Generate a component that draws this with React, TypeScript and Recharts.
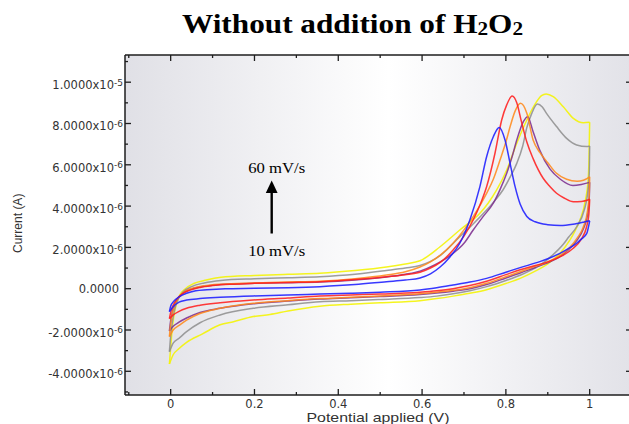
import React from 'react';
import { LineChart, Line, XAxis, YAxis, CartesianGrid } from 'recharts';

type P = [number, number]; // [potential V, current µA]

const xTicks = [-0.1, 0, 0.1, 0.2, 0.3, 0.4, 0.5, 0.6, 0.7, 0.8, 0.9, 1.0];
const yTicks = [-5, -4, -3, -2, -1, 0, 1, 2, 3, 4, 5, 6, 7, 8, 9, 10, 11];

const blueFwd: P[] = [[-0.003,-1.11],[0.0,-0.85],[0.008,-0.6],[0.02,-0.4],[0.038,-0.22],[0.06,-0.1],[0.086,-0.05],[0.13,0.0],[0.2,0.02],[0.28,0.05],[0.356,0.1],[0.44,0.2],[0.515,0.34],[0.56,0.42],[0.595,0.52],[0.62,0.72],[0.643,1.05],[0.667,1.55],[0.69,2.2],[0.714,3.33],[0.738,4.94],[0.754,6.39],[0.77,7.36],[0.784,7.81],[0.798,7.2],[0.81,6.07],[0.822,4.94],[0.834,4.1],[0.85,3.5],[0.87,3.24],[0.9,3.1],[0.93,3.06],[0.96,3.12],[0.985,3.22],[1.0,3.29]];
const blueRev: P[] = [[1.0,3.29],[0.993,2.68],[0.98,2.4],[0.969,2.2],[0.95,1.95],[0.929,1.71],[0.9,1.45],[0.881,1.31],[0.834,1.02],[0.8,0.8],[0.754,0.5],[0.714,0.32],[0.674,0.18],[0.635,0.05],[0.595,-0.06],[0.5,-0.17],[0.43,-0.22],[0.356,-0.26],[0.28,-0.3],[0.197,-0.35],[0.118,-0.42],[0.07,-0.48],[0.038,-0.55],[0.02,-0.65],[0.006,-0.87],[-0.003,-1.11]];

const redFwd: P[] = [[-0.003,-1.45],[0.0,-1.15],[0.006,-0.8],[0.015,-0.5],[0.028,-0.25],[0.045,-0.08],[0.07,0.06],[0.1,0.15],[0.15,0.22],[0.2,0.26],[0.28,0.3],[0.356,0.34],[0.44,0.44],[0.515,0.58],[0.56,0.68],[0.595,0.8],[0.62,1.0],[0.645,1.3],[0.674,1.87],[0.7,2.55],[0.722,3.33],[0.74,4.15],[0.754,4.94],[0.774,6.56],[0.79,8.17],[0.802,8.9],[0.815,9.33],[0.826,9.0],[0.837,8.1],[0.85,7.1],[0.865,6.3],[0.889,5.35],[0.905,4.95],[0.921,4.62],[0.94,4.38],[0.961,4.21],[0.98,4.22],[1.0,4.33]];
const redRev: P[] = [[1.0,4.33],[0.998,3.6],[0.992,2.95],[0.98,2.4],[0.96,1.95],[0.935,1.6],[0.9,1.3],[0.87,1.12],[0.834,0.92],[0.8,0.68],[0.754,0.36],[0.714,0.15],[0.674,0.0],[0.635,-0.1],[0.595,-0.17],[0.5,-0.26],[0.43,-0.3],[0.356,-0.35],[0.28,-0.45],[0.197,-0.55],[0.118,-0.68],[0.07,-0.8],[0.038,-0.95],[0.02,-1.1],[0.006,-1.27],[-0.003,-1.45]];

const orangeFwd: P[] = [[-0.003,-2.32],[0.0,-1.7],[0.005,-1.1],[0.012,-0.65],[0.022,-0.35],[0.035,-0.12],[0.055,0.04],[0.08,0.14],[0.12,0.22],[0.2,0.28],[0.28,0.32],[0.356,0.36],[0.44,0.48],[0.515,0.66],[0.56,0.82],[0.595,1.05],[0.62,1.3],[0.645,1.65],[0.674,2.2],[0.7,2.85],[0.722,3.49],[0.754,4.62],[0.77,5.3],[0.786,6.23],[0.8,7.1],[0.81,7.84],[0.822,8.6],[0.835,8.98],[0.85,8.5],[0.865,7.2],[0.881,6.6],[0.9,6.1],[0.92,5.6],[0.945,5.3],[0.97,5.2],[0.985,5.25],[1.0,5.42]];
const orangeRev: P[] = [[1.0,5.42],[0.999,4.6],[0.995,3.8],[0.985,3.0],[0.97,2.45],[0.95,1.95],[0.925,1.55],[0.9,1.3],[0.87,1.08],[0.834,0.82],[0.8,0.58],[0.754,0.26],[0.714,0.05],[0.674,-0.08],[0.635,-0.17],[0.595,-0.24],[0.5,-0.35],[0.43,-0.42],[0.356,-0.48],[0.28,-0.58],[0.197,-0.71],[0.118,-0.95],[0.07,-1.2],[0.038,-1.52],[0.02,-1.78],[0.006,-2.0],[-0.003,-2.32]];

const purpleFwd: P[] = [[-0.003,-2.05],[0.0,-1.55],[0.005,-1.05],[0.012,-0.65],[0.022,-0.35],[0.035,-0.14],[0.055,0.02],[0.08,0.12],[0.12,0.2],[0.2,0.26],[0.28,0.29],[0.356,0.32],[0.44,0.42],[0.515,0.57],[0.56,0.7],[0.595,0.85],[0.63,1.15],[0.674,1.71],[0.7,2.2],[0.722,2.84],[0.746,3.5],[0.77,4.14],[0.786,4.8],[0.802,5.59],[0.815,6.4],[0.826,7.2],[0.842,8.1],[0.852,8.33],[0.865,7.6],[0.881,6.7],[0.905,5.8],[0.93,5.3],[0.96,5.0],[0.98,5.05],[1.0,5.15]];
const purpleRev: P[] = [[1.0,5.15],[0.999,4.4],[0.995,3.6],[0.985,2.9],[0.97,2.35],[0.95,1.9],[0.925,1.5],[0.9,1.25],[0.87,1.03],[0.834,0.76],[0.8,0.52],[0.754,0.2],[0.714,0.0],[0.674,-0.12],[0.635,-0.21],[0.595,-0.28],[0.5,-0.38],[0.43,-0.44],[0.356,-0.5],[0.28,-0.6],[0.197,-0.73],[0.118,-0.95],[0.07,-1.15],[0.038,-1.42],[0.02,-1.62],[0.006,-1.82],[-0.003,-2.05]];

const grayFwd: P[] = [[-0.003,-3.05],[0.0,-2.3],[0.004,-1.6],[0.01,-0.95],[0.018,-0.5],[0.03,-0.15],[0.05,0.1],[0.08,0.28],[0.12,0.4],[0.2,0.48],[0.28,0.53],[0.356,0.58],[0.44,0.7],[0.515,0.88],[0.56,1.0],[0.595,1.12],[0.643,1.6],[0.69,2.52],[0.72,3.1],[0.754,3.81],[0.775,4.3],[0.793,4.78],[0.81,5.4],[0.826,6.07],[0.84,6.9],[0.85,7.8],[0.862,8.5],[0.875,8.94],[0.887,8.8],[0.897,8.49],[0.921,7.85],[0.945,7.28],[0.969,6.96],[0.993,6.88],[1.0,6.91]];
const grayRev: P[] = [[1.0,6.91],[0.999,5.6],[0.995,4.6],[0.987,3.81],[0.969,3.0],[0.95,2.5],[0.937,2.15],[0.91,1.6],[0.88,1.12],[0.86,0.9],[0.834,0.65],[0.8,0.4],[0.754,0.1],[0.714,-0.1],[0.674,-0.25],[0.635,-0.36],[0.595,-0.43],[0.5,-0.52],[0.43,-0.58],[0.356,-0.63],[0.28,-0.78],[0.197,-0.95],[0.118,-1.27],[0.07,-1.65],[0.038,-2.08],[0.02,-2.4],[0.006,-2.64],[-0.003,-3.05]];

const yellowFwd: P[] = [[-0.003,-3.65],[0.0,-2.85],[0.003,-2.1],[0.007,-1.4],[0.013,-0.8],[0.022,-0.3],[0.035,0.0],[0.055,0.25],[0.085,0.42],[0.12,0.55],[0.2,0.64],[0.28,0.7],[0.356,0.75],[0.44,0.88],[0.515,1.05],[0.56,1.2],[0.595,1.35],[0.643,2.03],[0.69,2.84],[0.738,3.65],[0.758,4.15],[0.778,4.78],[0.802,5.75],[0.826,7.04],[0.85,8.17],[0.87,8.95],[0.885,9.35],[0.896,9.43],[0.913,9.3],[0.937,8.81],[0.961,8.25],[0.985,8.04],[1.0,8.06]];
const yellowRev: P[] = [[1.0,8.06],[0.999,7.0],[0.998,6.0],[0.996,5.2],[0.99,4.3],[0.977,3.33],[0.965,2.8],[0.953,2.36],[0.929,1.71],[0.9,1.2],[0.87,0.85],[0.834,0.5],[0.8,0.25],[0.754,-0.05],[0.714,-0.22],[0.674,-0.36],[0.635,-0.48],[0.595,-0.58],[0.5,-0.68],[0.43,-0.75],[0.356,-0.85],[0.28,-1.08],[0.237,-1.25],[0.197,-1.35],[0.15,-1.6],[0.118,-1.75],[0.075,-2.2],[0.038,-2.6],[0.02,-2.9],[0.006,-3.2],[-0.003,-3.65]];

const seriesNames = ['60 mV/s', '50 mV/s', '40 mV/s', '30 mV/s', '20 mV/s', '10 mV/s'];
const seriesColors = ['#f4f400', '#8f8f8f', '#7d2f90', '#ff8a1c', '#ff1f1f', '#1c1cff'];
const seriesFwd = [yellowFwd, grayFwd, purpleFwd, orangeFwd, redFwd, blueFwd];
const seriesRev = [yellowRev, grayRev, purpleRev, orangeRev, redRev, blueRev];

// each branch is monotone in potential, so it can be drawn as a smooth monotone curve
const toData = (pts: P[]) =>
  [...pts].sort((a, b) => a[0] - b[0]).map(([v, i]) => ({ v, i }));

const AX = '#1e1e1e';
const LBL = '#333';
const TICKFONT = 'DejaVu Sans';

const fmtX = (v: number) => {
  const k = Math.round(v * 10);
  if (k === 0) return '0';
  if (k === 10) return '1';
  return (k / 10).toFixed(1);
};

const XTickBottom = (props: any) => {
  const { x, y, payload } = props;
  const k = Math.round(payload.value * 10);
  const major = k % 2 === 0;
  return (
    <g>
      <line x1={x} x2={x} y1={y} y2={y - (major ? 6 : 3)} stroke={AX} strokeWidth={1.3} />
      {major && (
        <text x={x} y={y + 12.5} textAnchor="middle" fontFamily={TICKFONT} fontSize={11.5} fill={LBL}>
          {fmtX(payload.value)}
        </text>
      )}
    </g>
  );
};

const XTickTop = (props: any) => {
  const { x, y, payload } = props;
  const k = Math.round(payload.value * 10);
  const major = k % 2 === 0;
  return <line x1={x} x2={x} y1={y} y2={y + (major ? 6 : 3)} stroke={AX} strokeWidth={1.3} />;
};

const YTickLeft = (props: any) => {
  const { x, y, payload } = props;
  const v = Math.round(payload.value);
  const major = v % 2 === 0;
  let label: React.ReactNode = null;
  if (major) {
    if (v === 0) {
      label = (
        <text x={x - 6} y={y + 4} textAnchor="end" fontFamily={TICKFONT} fontSize={11.5} fill={LBL}>
          0.0000
        </text>
      );
    } else {
      const exp = Math.abs(v) >= 10 ? -5 : -6;
      const mant = Math.abs(v) >= 10 ? v / 10 : v;
      label = (
        <text x={x - 2} y={y} textAnchor="end" fontFamily={TICKFONT} fontSize={11.5} fill={LBL}>
          <tspan dy={7}>{mant.toFixed(4)}x10</tspan>
          <tspan dy={-3.5} fontSize={9}>{String(exp)}</tspan>
        </text>
      );
    }
  }
  return (
    <g>
      <line x1={x} x2={x + (major ? 6 : 3)} y1={y} y2={y} stroke={AX} strokeWidth={1.3} />
      {label}
    </g>
  );
};

const YTickRight = (props: any) => {
  const { x, y, payload } = props;
  const v = Math.round(payload.value);
  const major = v % 2 === 0;
  return <line x1={x} x2={x - (major ? 6 : 3)} y1={y} y2={y} stroke={AX} strokeWidth={1.3} />;
};

const xDomain: [number, number] = [-0.109, 1.101];
const yDomain: [number, number] = [-5.148, 11.317];

export default function App() {
  const lines: React.ReactNode[] = [];
  seriesNames.forEach((name, idx) => {
    [seriesFwd[idx], seriesRev[idx]].forEach((branch, b) => {
      lines.push(
        <Line
          key={`${name}-${b}`}
          name={name}
          xAxisId="b"
          yAxisId="l"
          data={toData(branch)}
          dataKey="i"
          type="monotone"
          stroke={seriesColors[idx]}
          strokeWidth={1.5}
          strokeOpacity={0.88}
          dot={false}
          activeDot={false}
          isAnimationActive={false}
        />
      );
    });
  });
  return (
    <div style={{ position: 'absolute', left: 0, top: 0, width: 629, height: 424, overflow: 'hidden', background: '#fff' }}>
      <LineChart width={634} height={424} margin={{ top: 50, right: 0, bottom: 0, left: 0 }}>
        <defs>
          <linearGradient id="bgGrad" x1="0" y1="0" x2="1" y2="0">
            <stop offset="0%" stopColor="#e0e0e6" />
            <stop offset="52%" stopColor="#ffffff" />
            <stop offset="100%" stopColor="#e2e2e8" />
          </linearGradient>
        </defs>
        <CartesianGrid horizontal={false} vertical={false} fill="url(#bgGrad)" stroke="none" />
        <XAxis
          xAxisId="b"
          dataKey="v"
          type="number"
          orientation="bottom"
          domain={xDomain}
          allowDataOverflow
          ticks={xTicks}
          interval={0}
          height={29}
          tickSize={0}
          tickMargin={0}
          tick={(p: any) => <XTickBottom {...p} />}
          axisLine={{ stroke: AX, strokeWidth: 1.5 }}
          tickLine={false}
        />
        <XAxis
          xAxisId="t"
          dataKey="v"
          type="number"
          orientation="top"
          domain={xDomain}
          allowDataOverflow
          ticks={xTicks}
          interval={0}
          height={5}
          tickSize={0}
          tickMargin={0}
          tick={(p: any) => <XTickTop {...p} />}
          axisLine={{ stroke: AX, strokeWidth: 1.5 }}
          tickLine={false}
        />
        <YAxis
          yAxisId="l"
          type="number"
          orientation="left"
          domain={yDomain}
          allowDataOverflow
          ticks={yTicks}
          interval={0}
          width={125}
          tickSize={0}
          tickMargin={0}
          tick={(p: any) => <YTickLeft {...p} />}
          axisLine={{ stroke: AX, strokeWidth: 1.5 }}
          tickLine={false}
        />
        <YAxis
          yAxisId="r"
          type="number"
          orientation="right"
          domain={yDomain}
          allowDataOverflow
          ticks={yTicks}
          interval={0}
          width={2}
          tickSize={0}
          tickMargin={0}
          tick={(p: any) => <YTickRight {...p} />}
          axisLine={{ stroke: AX, strokeWidth: 1.5 }}
          tickLine={false}
        />
        {lines}
      </LineChart>
      <svg width={629} height={424} style={{ position: 'absolute', left: 0, top: 0, pointerEvents: 'none' }}>
        <text x={352.5} y={33} textAnchor="middle" fontFamily="Liberation Serif" fontWeight="bold" fontSize={28} fill="#000" textLength={341} lengthAdjust="spacingAndGlyphs">
          Without addition of H<tspan fontSize={19} dy={2}>2</tspan><tspan dy={-2}>O</tspan><tspan fontSize={19} dy={2}>2</tspan>
        </text>
        <text x={276.7} y={173} textAnchor="middle" fontFamily="Liberation Serif" fontSize={15} fill="#000" textLength={57} lengthAdjust="spacingAndGlyphs">60 mV/s</text>
        <text x={276.7} y={256} textAnchor="middle" fontFamily="Liberation Serif" fontSize={15} fill="#000" textLength={57} lengthAdjust="spacingAndGlyphs">10 mV/s</text>
        <line x1={271.7} x2={271.7} y1={233.5} y2={190} stroke="#000" strokeWidth={2.4} />
        <polygon points="271.7,180.5 265.8,193 277.6,193" fill="#000" />
        <text transform="translate(21.5,223.3) rotate(-90)" textAnchor="middle" fontFamily="Liberation Sans" fontSize={12} fill={LBL}>Current (A)</text>
        <text x={378} y={422} textAnchor="middle" fontFamily="Liberation Sans" fontSize={13} fill={LBL} textLength={143} lengthAdjust="spacingAndGlyphs">Potential applied (V)</text>
      </svg>
    </div>
  );
}
